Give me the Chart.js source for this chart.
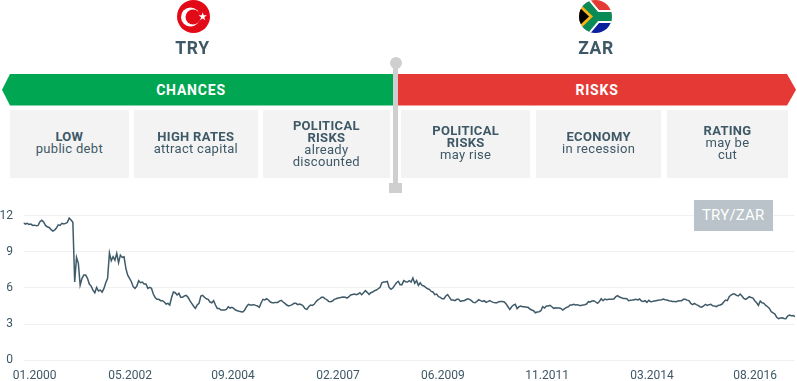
<!DOCTYPE html>
<html>
<head>
<meta charset="utf-8">
<title>TRY/ZAR</title>
<script src="https://cdn.jsdelivr.net/npm/chart.js@4"></script>
<style>
    html, body { margin: 0; padding: 0; background: #fff; }
    #wrap { position: relative; width: 797px; height: 381px; overflow: hidden; font-family: Roboto, sans-serif; color: #3e5866; }
    #wrap > * { position: absolute; }
    canvas { left: 0; top: 0; }
    .flag { width: 33px; height: 33px; top: 0; }
    .ccy { top: 38px; width: 80px; text-align: center; font-size: 17.5px; line-height: 20px; font-weight: 700; letter-spacing: 0.6px; }
    .banner { top: 74px; height: 31.5px; line-height: 33.5px; color: #fff; font-size: 14px; font-weight: 700; letter-spacing: 0.8px; text-align: center; }
    .card { top: 109.5px; height: 68.5px; background: #f3f3f3; display: flex; align-items: center; justify-content: center; text-align: center; font-size: 13px; line-height: 12px; letter-spacing: 0.3px; }
    .card b { font-weight: 700; }
    .up { margin-bottom: 2px; }
    .pole { background: #cfcfcf; }
    #badge { left: 693.5px; top: 200px; width: 79.5px; height: 30.5px; line-height: 31px; background: #b9c3c9; color: #fff; text-align: center; font-size: 15px; letter-spacing: 0.2px; }
</style>
</head>
<body>
<div id="wrap">
    <canvas id="rateChart" width="797" height="381"></canvas>

    <svg class="flag" style="left:177px" viewBox="0 0 33 33">
        <circle cx="16.5" cy="16.5" r="16.5" fill="#e30a17"/>
        <circle cx="13.5" cy="17" r="9.5" fill="#fff"/>
        <circle cx="16" cy="17" r="7.5" fill="#e30a17"/>
        <polygon fill="#fff" points="25.7,12.3 26.7,15.3 29.9,15.3 27.3,17.2 28.3,20.2 25.7,18.4 23.1,20.2 24.1,17.2 21.5,15.3 24.7,15.3"/>
    </svg>
    <svg class="flag" style="left:579px" viewBox="0 0 33 33">
        <defs><clipPath id="round"><circle cx="16.5" cy="16.5" r="16.5"/></clipPath></defs>
        <g clip-path="url(#round)">
            <rect width="33" height="17" fill="#e53935"/>
            <rect y="16.5" width="33" height="17" fill="#0c1f9c"/>
            <path d="M-1 -5 L17 16.5 L-1 38 M17 16.5 L35 16.5" fill="none" stroke="#fff" stroke-width="13"/>
            <path d="M-1 -5 L17 16.5 L-1 38 M17 16.5 L35 16.5" fill="none" stroke="#0a8a55" stroke-width="9"/>
            <polygon points="0,3 14,16.5 0,30" fill="#f7b515"/>
            <polygon points="0,7 10,16.5 0,26" fill="#000"/>
        </g>
    </svg>
    <div class="ccy" style="left:152.5px">TRY</div>
    <div class="ccy" style="left:556px">ZAR</div>

    <div class="banner" style="left:2px;width:391px;background:#00a651;clip-path:polygon(0 50%,8px 0,100% 0,100% 100%,8px 100%)">
        <span style="position:absolute;left:0;width:378px">CHANCES</span>
    </div>
    <div class="banner" style="left:398px;width:398px;background:#e53935;clip-path:polygon(0 0,389px 0,100% 50%,389px 100%,0 100%)">
        <span style="position:absolute;left:0;width:398px">RISKS</span>
    </div>

    <div class="card" style="left:10px;width:118.7px"><div class="up"><b>LOW</b><br>public debt</div></div>
    <div class="card" style="left:133.7px;width:124.3px"><div class="up"><b>HIGH RATES</b><br>attract capital</div></div>
    <div class="card" style="left:263px;width:126.7px"><div><b>POLITICAL<br>RISKS</b><br>already<br>discounted</div></div>
    <div class="card" style="left:401.3px;width:128.7px"><div class="up"><b>POLITICAL<br>RISKS</b><br>may rise</div></div>
    <div class="card" style="left:536px;width:125.3px"><div class="up"><b>ECONOMY</b><br>in recession</div></div>
    <div class="card" style="left:667.3px;width:120.4px"><div class="up"><b>RATING</b><br>may be<br>cut</div></div>

    <div class="pole" style="left:393px;top:63px;width:5px;height:125px"></div>
    <div class="pole" style="left:389.5px;top:57px;width:12px;height:12px;border-radius:50%"></div>
    <div class="pole" style="left:389px;top:183px;width:13px;height:10px"></div>

    <div id="badge">TRY/ZAR</div>
</div>

<script>
// TRY/ZAR, one reading every half month from 01.2000, one row per year
const rates = [
    11.4, 11.29, 11.35, 11.26, 11.29, 11.18, 11.2, 11.15, 11.18, 11.48, 11.6, 11.46, 11.18, 11.07, 11.01, 10.85, 10.71, 10.79, 10.96, 11.23, 11.18, 11.35, 11.29, 11.35,
    11.43, 11.79, 11.62, 11.43, 6.5, 8.53, 8.03, 6.23, 6.79, 7.06, 7.06, 6.79, 6.32, 6.15, 5.82, 5.6, 6.04, 5.74, 5.82, 5.65, 5.96, 6.43, 6.79, 8.9,
    8.25, 8.58, 8.3, 8.86, 8.09, 8.72, 8.53, 8.58, 7.62, 7.06, 6.79, 6.51, 6.1, 5.96, 6.15, 6.59, 6.43, 6.48, 6.32, 6.32, 5.96, 6.04, 5.96, 5.49,
    5.21, 5.05, 5.05, 4.94, 4.94, 4.83, 4.66, 4.72, 4.58, 5.2, 5.66, 5.6, 5.41, 5.55, 5.22, 5.22, 5.33, 5.38, 5.22, 4.94, 4.72, 4.5, 4.3, 4.58,
    4.72, 5.33, 5.38, 5.22, 5.1, 5.05, 4.83, 4.77, 4.94, 4.58, 4.3, 4.3, 4.17, 4.17, 4.17, 4.22, 4.44, 4.33, 4.39, 4.3, 4.17, 4.11, 4.06, 4.03,
    4.0, 4.17, 4.44, 4.64, 4.58, 4.58, 4.61, 4.55, 4.5, 4.39, 4.77, 5.05, 5.0, 5.1, 5.0, 4.83, 4.77, 4.77, 4.8, 4.8, 4.91, 4.97, 4.83, 4.72,
    4.58, 4.5, 4.55, 4.61, 4.72, 4.72, 4.61, 4.66, 4.61, 4.5, 4.28, 4.22, 4.44, 4.58, 4.55, 4.64, 4.86, 5.0, 5.1, 5.22, 5.22, 5.1, 5.0, 4.88,
    4.86, 4.91, 5.05, 5.1, 5.16, 5.19, 5.22, 5.24, 5.22, 5.16, 5.27, 5.41, 5.46, 5.49, 5.44, 5.49, 5.6, 5.44, 5.6, 5.77, 5.63, 5.46, 5.6, 5.66,
    5.77, 5.82, 5.93, 6.04, 6.43, 6.49, 6.49, 6.54, 6.04, 5.88, 5.99, 6.21, 6.43, 6.54, 6.27, 6.27, 6.6, 6.51, 6.49, 6.6, 6.49, 6.82, 6.38, 6.6,
    6.21, 6.43, 6.21, 6.16, 6.04, 5.93, 5.88, 5.71, 5.66, 5.44, 5.49, 5.27, 5.22, 5.1, 5.1, 5.33, 5.44, 5.22, 5.0, 5.0, 4.94, 5.05, 5.05, 4.88,
    4.94, 4.94, 5.02, 5.1, 5.05, 4.94, 4.8, 4.77, 4.88, 5.02, 4.94, 4.88, 4.94, 4.8, 4.86, 4.94, 4.86, 4.8, 4.77, 4.77, 4.86, 4.88, 4.88, 4.83,
    4.66, 4.44, 4.22, 4.44, 4.58, 4.64, 4.28, 4.44, 4.5, 4.44, 4.44, 4.39, 4.39, 4.25, 4.17, 4.11, 3.94, 4.0, 4.03, 4.11, 4.44, 4.33, 4.5, 4.5,
    4.55, 4.44, 4.3, 4.36, 4.33, 4.33, 4.3, 4.17, 4.28, 4.39, 4.44, 4.58, 4.58, 4.64, 4.58, 4.61, 4.55, 4.55, 4.58, 4.61, 4.66, 4.86, 4.83, 4.91,
    4.94, 4.83, 4.72, 4.88, 5.1, 4.94, 5.08, 5.02, 5.05, 5.05, 5.05, 5.1, 5.27, 5.35, 5.24, 5.19, 5.13, 5.13, 5.1, 4.94, 4.97, 4.99, 5.02, 5.05,
    5.0, 5.08, 4.91, 4.88, 4.94, 4.8, 4.97, 4.86, 4.88, 4.91, 4.94, 4.97, 4.99, 5.02, 5.08, 5.02, 4.99, 4.94, 4.91, 4.88, 4.88, 4.86, 4.91, 4.94,
    4.94, 5.05, 5.05, 4.99, 4.94, 4.72, 4.61, 4.72, 4.61, 4.55, 4.44, 4.41, 4.5, 4.64, 4.55, 4.61, 4.64, 4.52, 4.5, 4.44, 4.55, 4.58, 4.64, 4.83,
    4.99, 4.94, 5.27, 5.41, 5.49, 5.49, 5.38, 5.33, 5.49, 5.33, 5.13, 5.05, 5.16, 5.27, 5.21, 5.16, 4.94, 4.77, 4.55, 4.91, 4.77, 4.72, 4.55, 4.44,
    4.3, 4.03, 3.94, 3.83, 3.56, 3.45, 3.5, 3.53, 3.47, 3.45, 3.67, 3.75, 3.7, 3.72, 3.61
];
const tickLabels = ['01.2000', '05.2002', '09.2004', '02.2007', '06.2009', '11.2011', '03.2014', '08.2016'];
// where those labels sit, in months since 01.2000 (the first one is pushed inwards)
const tickMonths = [3.05, 29.15, 57.3, 86, 114.7, 143.2, 171.9, 200.1];
const yMax = 12;
const yStep = 3;

new Chart(document.getElementById('rateChart'), {
    type: 'line',
    data: {
        datasets: [{
            data: rates.map((v, i) => ({ x: i / 2, y: v })),
            borderColor: '#3f5a68',
            borderWidth: 1.5,
            pointRadius: 0,
            tension: 0,
        }],
    },
    options: {
        responsive: false,
        animation: false,
        layout: { padding: { top: 215.5, right: 2 } },
        plugins: {
            legend: { display: false },
            tooltip: { enabled: false },
        },
        scales: {
            x: {
                type: 'linear',
                min: 0,
                max: 211,
                grid: { display: false, drawTicks: false },
                border: { display: false },
                afterBuildTicks: function (scale) {
                    scale.ticks = tickMonths.map(m => ({ value: m }));
                },
                afterFit: function (scale) {
                    scale.height = 20.7;
                },
                ticks: {
                    autoSkip: false,
                    maxRotation: 0,
                    padding: 8,
                    color: '#3e5866',
                    font: { family: 'Roboto', size: 12 },
                    callback: function (value, index) {
                        return tickLabels[index];
                    },
                },
            },
            y: {
                min: 0,
                max: yMax,
                grid: { color: '#f0f1f2', drawTicks: false },
                border: { display: false },
                afterFit: function (scale) {
                    scale.width = 23.5;
                },
                ticks: {
                    stepSize: yStep,
                    padding: 10.5,
                    color: '#3e5866',
                    font: { family: 'Roboto', size: 12 },
                },
            },
        },
    },
});
</script>
</body>
</html>
